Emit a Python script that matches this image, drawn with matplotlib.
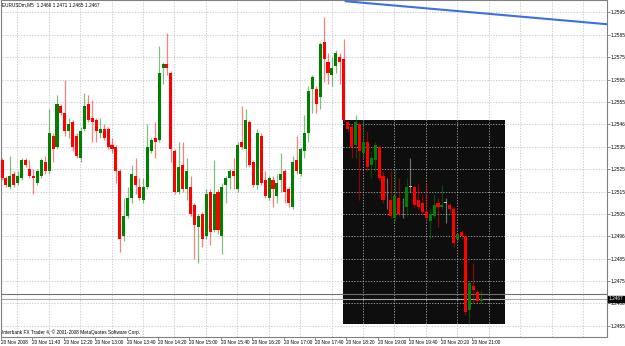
import matplotlib
matplotlib.use("Agg")
import matplotlib.pyplot as plt
from matplotlib.patches import Rectangle

# EURUSDm M5 bars, 20 Nov 2008
opens = [1.2529, 1.2521, 1.2517, 1.2523, 1.2519, 1.2521, 1.2529, 1.2525, 1.2522, 1.2519,
         1.2522, 1.2528, 1.2524, 1.2540, 1.2535, 1.2553, 1.2550, 1.2542, 1.2546, 1.2540,
         1.2530, 1.2543, 1.2554, 1.2548, 1.2547, 1.2541, 1.2543, 1.2543, 1.2536, 1.2535,
         1.2524, 1.2495, 1.2504, 1.2512, 1.2522, 1.2517, 1.2511, 1.2517, 1.2533, 1.2539,
         1.2538, 1.2570, 1.2572, 1.2568, 1.2533, 1.2515, 1.2527, 1.2516, 1.2517, 1.2509,
         1.2499, 1.2505, 1.2495, 1.2515, 1.2498, 1.2515, 1.2495, 1.2518, 1.2521, 1.2524,
         1.2516, 1.2537, 1.2534, 1.2546, 1.2528, 1.2518, 1.2540, 1.2520, 1.2512, 1.2520,
         1.2513, 1.2520, 1.2524, 1.2516, 1.2508, 1.2529, 1.2523, 1.2533, 1.2541, 1.2561,
         1.2561, 1.2557, 1.2582, 1.2573, 1.2567, 1.2571, 1.2575, 1.2574, 1.2546, 1.2544,
         1.2536, 1.2545, 1.2532, 1.2537, 1.2527, 1.2529, 1.2535, 1.2522, 1.2512, 1.2511,
         1.2503, 1.2512, 1.2507, 1.2508, 1.2517, 1.2517, 1.2511, 1.2510, 1.2506, 1.2502,
         1.2504, 1.2510, 1.2508, 1.2510, 1.2509, 1.2507, 1.2494, 1.2497, 1.2495, 1.2462,
         1.2473, 1.2470, 1.2466]
highs = [1.2530, 1.2522, 1.2531, 1.2524, 1.2524, 1.2530, 1.2530, 1.2529, 1.2525, 1.2525,
         1.2530, 1.2531, 1.2552, 1.2541, 1.2558, 1.2554, 1.2565, 1.2548, 1.2547, 1.2541,
         1.2544, 1.2559, 1.2558, 1.2556, 1.2548, 1.2548, 1.2545, 1.2544, 1.2539, 1.2536,
         1.2525, 1.2512, 1.2517, 1.2527, 1.2530, 1.2521, 1.2521, 1.2545, 1.2539, 1.2546,
         1.2580, 1.2573, 1.2586, 1.2569, 1.2534, 1.2537, 1.2537, 1.2530, 1.2522, 1.2510,
         1.2505, 1.2506, 1.2516, 1.2516, 1.2529, 1.2516, 1.2519, 1.2522, 1.2525, 1.2530,
         1.2537, 1.2553, 1.2552, 1.2547, 1.2529, 1.2543, 1.2541, 1.2524, 1.2522, 1.2522,
         1.2523, 1.2532, 1.2525, 1.2517, 1.2531, 1.2540, 1.2535, 1.2549, 1.2562, 1.2567,
         1.2562, 1.2582, 1.2593, 1.2577, 1.2575, 1.2578, 1.2577, 1.2583, 1.2547, 1.2545,
         1.2549, 1.2546, 1.2547, 1.2542, 1.2533, 1.2537, 1.2536, 1.2524, 1.2521, 1.2524,
         1.2525, 1.2521, 1.2512, 1.2521, 1.2530, 1.2518, 1.2519, 1.2514, 1.2519, 1.2507,
         1.2514, 1.2512, 1.2518, 1.2512, 1.2510, 1.2508, 1.2496, 1.2498, 1.2496, 1.2475,
         1.2483, 1.2471, 1.2471]
lows = [1.2520, 1.2517, 1.2516, 1.2517, 1.2518, 1.2520, 1.2526, 1.2521, 1.2514, 1.2518,
        1.2521, 1.2523, 1.2523, 1.2528, 1.2534, 1.2549, 1.2540, 1.2539, 1.2533, 1.2530,
        1.2528, 1.2542, 1.2546, 1.2537, 1.2537, 1.2539, 1.2538, 1.2534, 1.2532, 1.2519,
        1.2488, 1.2493, 1.2503, 1.2510, 1.2514, 1.2511, 1.2510, 1.2516, 1.2532, 1.2530,
        1.2537, 1.2563, 1.2567, 1.2528, 1.2514, 1.2514, 1.2515, 1.2511, 1.2504, 1.2485,
        1.2483, 1.2490, 1.2494, 1.2491, 1.2497, 1.2496, 1.2487, 1.2510, 1.2516, 1.2516,
        1.2515, 1.2534, 1.2526, 1.2526, 1.2517, 1.2516, 1.2518, 1.2512, 1.2511, 1.2508,
        1.2510, 1.2515, 1.2510, 1.2508, 1.2507, 1.2523, 1.2522, 1.2530, 1.2537, 1.2550,
        1.2550, 1.2552, 1.2564, 1.2563, 1.2562, 1.2568, 1.2563, 1.2546, 1.2542, 1.2530,
        1.2530, 1.2511, 1.2530, 1.2524, 1.2521, 1.2524, 1.2520, 1.2510, 1.2507, 1.2503,
        1.2502, 1.2504, 1.2503, 1.2504, 1.2515, 1.2508, 1.2507, 1.2505, 1.2502, 1.2494,
        1.2503, 1.2499, 1.2507, 1.2501, 1.2506, 1.2490, 1.2493, 1.2494, 1.2460, 1.2456,
        1.2465, 1.2465, 1.2465]
closes = [1.2521, 1.2518, 1.2522, 1.2518, 1.2522, 1.2529, 1.2527, 1.2522, 1.2521, 1.2524,
          1.2529, 1.2524, 1.2541, 1.2534, 1.2554, 1.2550, 1.2542, 1.2545, 1.2535, 1.2531,
          1.2542, 1.2553, 1.2547, 1.2546, 1.2542, 1.2543, 1.2539, 1.2535, 1.2534, 1.2524,
          1.2494, 1.2504, 1.2512, 1.2523, 1.2518, 1.2512, 1.2517, 1.2535, 1.2538, 1.2537,
          1.2568, 1.2572, 1.2570, 1.2534, 1.2515, 1.2526, 1.2516, 1.2524, 1.2505, 1.2500,
          1.2504, 1.2494, 1.2514, 1.2497, 1.2514, 1.2498, 1.2517, 1.2521, 1.2524, 1.2522,
          1.2536, 1.2535, 1.2547, 1.2527, 1.2518, 1.2541, 1.2519, 1.2513, 1.2521, 1.2516,
          1.2519, 1.2523, 1.2515, 1.2510, 1.2528, 1.2524, 1.2534, 1.2541, 1.2560, 1.2566,
          1.2554, 1.2581, 1.2574, 1.2568, 1.2570, 1.2577, 1.2573, 1.2547, 1.2543, 1.2535,
          1.2546, 1.2533, 1.2537, 1.2526, 1.2530, 1.2536, 1.2521, 1.2511, 1.2512, 1.2504,
          1.2513, 1.2505, 1.2507, 1.2517, 1.2517, 1.2509, 1.2508, 1.2506, 1.2503, 1.2505,
          1.2509, 1.2508, 1.2509, 1.2510, 1.2507, 1.2492, 1.2496, 1.2495, 1.2461, 1.2474,
          1.2471, 1.2466, 1.2467]

date_labels = ["20 Nov 2008", "20 Nov 11:40", "20 Nov 12:20", "20 Nov 13:00",
               "20 Nov 13:40", "20 Nov 14:20", "20 Nov 15:00", "20 Nov 15:40",
               "20 Nov 16:20", "20 Nov 17:00", "20 Nov 17:40", "20 Nov 18:20",
               "20 Nov 19:00", "20 Nov 19:40", "20 Nov 20:20", "20 Nov 21:00"]
date_bars = [0, 8, 16, 24, 32, 40, 48, 56, 64, 72, 80, 88, 96, 104, 112, 120]

price_ticks = [1.2595, 1.2585, 1.2575, 1.2565, 1.2555, 1.2545, 1.2535, 1.2525,
               1.2515, 1.2505, 1.2495, 1.2485, 1.2475, 1.2465, 1.2455]
price_labels = ["1.2595", "1.2585", "1.2575", "1.2565", "1.2555", "1.2546", "1.2535",
                "1.2525", "1.2515", "1.2505", "1.2496", "1.2485", "1.2475", "1.2466",
                "1.2455"]

bid = 1.2467
ask = 1.2469
title = "EURUSDm,M5  1.2466 1.2471 1.2465 1.2467"

# chart objects: rectangle (bars / prices) and a trendline
rect_x = (86.9, 128.1)
rect_y = (1.24558, 1.25470)
trend_x = (87.5, 154.3)
trend_y = (1.2600, 1.25897)

FONT = ['Liberation Sans', 'DejaVu Sans']
FS = 3.4
GRID = '#bcbccc'


def main():
    fig = plt.figure(figsize=(6.25, 3.46), dpi=100)
    ax = fig.add_axes([0.0008, 0.026, 0.9696, 0.973])
    ax.set_xlim(-0.38, 153.9)
    ax.set_ylim(1.2450, 1.26004)

    ax.add_patch(Rectangle((rect_x[0], rect_y[0]), rect_x[1] - rect_x[0], rect_y[1] - rect_y[0],
                           facecolor='#0e0e0e', edgecolor='none', zorder=1))

    # dotted grid, drawn over the rectangle but under the bars
    for p in price_ticks:
        ax.axhline(p, color=GRID, lw=0.5, ls=(0, (2, 2)), zorder=1.5)
    k = 3.9
    while k < 153.9:
        ax.axvline(k, color=GRID, lw=0.5, ls=(0, (2, 2)), zorder=1.5)
        k += 8

    ax.axhline(ask, color='#707070', lw=0.8, zorder=1.6)
    ax.axhline(bid, color='#a8a8a8', lw=0.8, zorder=1.6)

    for i in range(len(opens)):
        o, h, l, c = opens[i], highs[i], lows[i], closes[i]
        if c > o:
            col = '#008000'
        elif c < o:
            col = '#ff0000'
        else:
            col = '#c8c8c8'
        ax.vlines(i, l, h, color=col, lw=0.9, alpha=0.5, zorder=2)
        ax.bar(i, max(abs(c - o), 0.00003), bottom=min(o, c), width=0.78,
               color=col, edgecolor='none', zorder=3)

    ax.plot(trend_x, trend_y, color='#3f6fe0', lw=1.5, zorder=4)

    for s in ax.spines.values():
        s.set_color('#808080')
        s.set_linewidth(0.8)

    ax.yaxis.tick_right()
    ax.set_yticks(price_ticks)
    ax.set_yticklabels(price_labels, family=FONT, fontsize=FS)
    ax.tick_params(axis='y', length=2, width=0.6, color='#808080', pad=0.8)

    ax.set_xticks([b - 0.3 for b in date_bars])
    ax.set_xticklabels(date_labels, family=FONT, fontsize=FS)
    for lab in ax.get_xticklabels():
        lab.set_horizontalalignment('left')
    ax.tick_params(axis='x', length=2, width=0.6, color='#808080', pad=0.5)

    ax.annotate("%.4f" % bid, xy=(1.0, bid), xycoords=('axes fraction', 'data'),
                xytext=(1.5, 0), textcoords='offset points', ha='left', va='center',
                family=FONT, fontsize=FS, color='white', zorder=6,
                bbox=dict(boxstyle='square,pad=0.15', fc='black', ec='black'),
                annotation_clip=False)

    ax.text(0.003, 0.995, title, transform=ax.transAxes, ha='left', va='top',
            family=FONT, fontsize=FS, color='black', zorder=6)
    ax.text(0.003, 0.005, "Interbank FX Trader 4, \u00a9 2001-2008 MetaQuotes Software Corp.",
            transform=ax.transAxes, ha='left', va='bottom', family=FONT, fontsize=FS,
            color='black', zorder=6)

    fig.savefig('out.png', dpi=100, facecolor='white')


if __name__ == '__main__':
    main()
